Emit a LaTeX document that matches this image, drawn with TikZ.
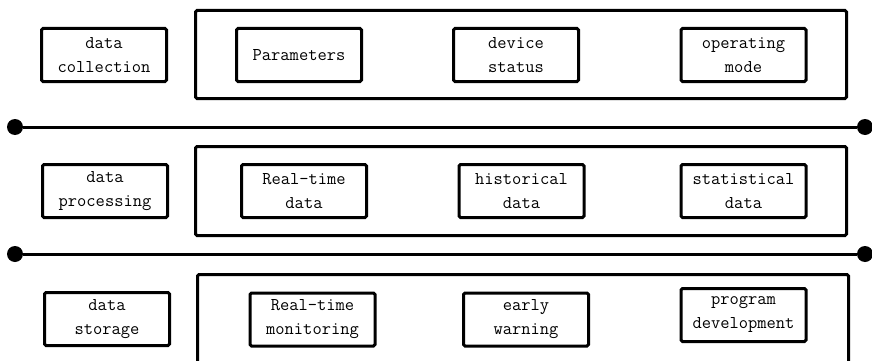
\documentclass[tikz,border=0pt]{standalone}
\usepackage{fontspec}
\begin{document}
\begin{tikzpicture}[x=1pt,y=-1pt,
  item/.style={draw,line width=3pt,rounded corners=1.5pt,minimum width=125pt,minimum height=53pt,
    inner sep=0pt,align=center,font=\ttfamily\fontsize{18}{24}\selectfont},
  group/.style={draw,line width=3pt,rounded corners=1.5pt,minimum width=651pt,inner sep=0pt},
  joint/.style={circle,fill=black,minimum size=16pt,inner sep=0pt},
  bus/.style={line width=3pt}]
\useasboundingbox (0,0) rectangle (872,361);
\begin{scope}
\clip (0,0) rectangle (872,361);

% group frames
\node[group,minimum height=88pt] (g1) at (521,54.5) {};
\node[group,minimum height=89pt] (g2) at (521,191) {};
\node[group,minimum height=140pt] (g3) at (523,344.5) {};

% row 1
\node[item] (collect) at (104,55) {data\\collection};
\node[item] (param)   at (299,55) {Parameters};
\node[item] (status)  at (516,55) {device\\status};
\node[item] (mode)    at (743.5,55) {operating\\mode};

% row 2
\node[item] (process) at (105,191) {data\\processing};
\node[item] (rtdata)  at (304,191) {Real-time\\data};
\node[item] (hist)    at (521.5,191) {historical\\data};
\node[item] (stat)    at (743.5,191) {statistical\\data};

% row 3
\node[item] (store)   at (107,319) {data\\storage};
\node[item] (monitor) at (312.5,319.5) {Real-time\\monitoring};
\node[item] (warn)    at (526,319.5) {early\\warning};
\node[item] (prog)    at (743.5,315) {program\\development};

% separating buses
\node[joint] (a1) at (15,127) {};
\node[joint] (b1) at (865,127) {};
\node[joint] (a2) at (15,254) {};
\node[joint] (b2) at (865,254) {};
\draw[bus] (a1) -- (b1);
\draw[bus] (a2) -- (b2);
\end{scope}
\end{tikzpicture}
\end{document}
